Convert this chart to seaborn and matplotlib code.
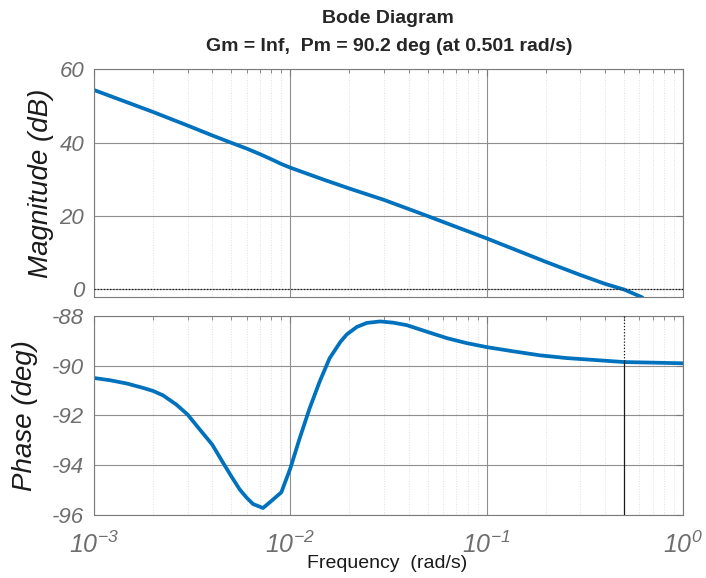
import matplotlib
matplotlib.use("Agg")
import numpy as np
import seaborn as sns
import matplotlib.pyplot as plt
from matplotlib.ticker import LogLocator, NullFormatter, FixedLocator, FuncFormatter

# ---- data ----
freq_mag = [0.001, 0.002, 0.003, 0.004, 0.005, 0.006, 0.007, 0.008, 0.009, 0.01,
            0.01466, 0.02, 0.03, 0.0472, 0.1, 0.2, 0.3, 0.4, 0.5, 0.62]
mag_db = [54.4, 48.4, 44.7, 42.0, 40.0, 38.4, 36.9, 35.5, 34.2, 33.2,
          30.0, 27.5, 24.4, 20.5, 13.9, 7.5, 3.9, 1.5, -0.05, -2.2]

freq_phase = [0.001, 0.001206, 0.001466, 0.001782, 0.002, 0.00225, 0.00263, 0.003,
              0.00346, 0.004, 0.00455, 0.005, 0.00553, 0.006, 0.00646, 0.00726,
              0.008, 0.009, 0.01, 0.01115, 0.01254, 0.0141, 0.01585, 0.018,
              0.0194, 0.02183, 0.02453, 0.0287, 0.0335, 0.0392, 0.0495, 0.0627,
              0.0791, 0.1, 0.1367, 0.1867, 0.255, 0.329, 0.5, 1.0]
phase_deg = [-90.50, -90.59, -90.72, -90.90, -91.02, -91.20, -91.57, -91.97,
             -92.57, -93.17, -93.91, -94.44, -94.98, -95.31, -95.56, -95.72,
             -95.44, -95.09, -94.13, -92.93, -91.72, -90.65, -89.71, -89.05,
             -88.75, -88.45, -88.29, -88.23, -88.28, -88.38, -88.64, -88.90,
             -89.10, -89.26, -89.43, -89.59, -89.70, -89.76, -89.86, -89.91]

wc = 0.501      # crossover frequency (rad/s)
pm = 90.2       # phase margin (deg)
mag_ticks = [0, 20, 40, 60]
phase_ticks = [-96, -94, -92, -90, -88]
mag_lim = (-2.1, 60)
phase_lim = (-96, -88)

# ---- style ----
sns.set_theme(style="white")
plt.rcParams["font.family"] = ["Liberation Sans", "DejaVu Sans"]
plt.rcParams["axes.unicode_minus"] = False
plt.rcParams["mathtext.fontset"] = "custom"
plt.rcParams["mathtext.rm"] = "Liberation Sans:italic"
plt.rcParams["mathtext.it"] = "Liberation Sans:italic"
plt.rcParams["mathtext.sf"] = "Liberation Sans:italic"

blue = "#0072BD"
tick_grey = "#6e6e6e"
spine_grey = "#7a7a7a"

fig = plt.figure(figsize=(7.06, 5.78), dpi=100)
ax1 = fig.add_axes([0.1331, 0.4862, 0.8343, 0.3936])
ax2 = fig.add_axes([0.1331, 0.1090, 0.8343, 0.3448])

sns.lineplot(x=freq_mag, y=mag_db, ax=ax1, color=blue, linewidth=2.7)
sns.lineplot(x=freq_phase, y=phase_deg, ax=ax2, color=blue, linewidth=2.7)

# margin markers
ax1.axhline(0, color="k", ls=(0, (1, 1.5)), lw=0.9, zorder=3)
phase_at_wc = -180 + pm
ax2.vlines(wc, phase_lim[0], phase_at_wc, color="k", lw=0.9, zorder=3)
ax2.vlines(wc, phase_at_wc, phase_lim[1], color="k", lw=0.9, ls=(0, (1, 1.5)), zorder=3)

decade_fmt = FuncFormatter(lambda v, p: r"$10^{%d}$" % int(round(np.log10(v))))

for ax in (ax1, ax2):
    ax.set_xscale("log")
    ax.set_xlim(1e-3, 1e0)
    ax.xaxis.set_major_locator(LogLocator(base=10, numticks=10))
    ax.xaxis.set_major_formatter(decade_fmt)
    ax.xaxis.set_minor_locator(LogLocator(base=10, subs=np.arange(2, 10), numticks=20))
    ax.xaxis.set_minor_formatter(NullFormatter())
    ax.grid(which="major", color="#8f8f8f", lw=0.8, ls="-")
    ax.grid(which="minor", axis="x", color="#e0e0e0", lw=0.7, ls=":")
    ax.set_axisbelow(True)
    ax.tick_params(which="both", direction="in", top=True, right=True,
                   color=spine_grey, labelcolor=tick_grey)
    ax.tick_params(which="major", length=5, width=0.8, labelsize=16, pad=7)
    ax.tick_params(which="minor", length=3, width=0.6)
    ax.tick_params(axis="x", which="major", labelsize=18, pad=12)
    for s in ax.spines.values():
        s.set_color(spine_grey)
        s.set_linewidth(0.8)
        s.set_visible(True)

ax1.set_ylim(*mag_lim)
ax1.yaxis.set_major_locator(FixedLocator(mag_ticks))
ax1.tick_params(labelbottom=False)
ax2.set_ylim(*phase_lim)
ax2.yaxis.set_major_locator(FixedLocator(phase_ticks))

for ax in (ax1, ax2):
    for lab in ax.get_yticklabels():
        lab.set_fontstyle("italic")

ax1.set_xlabel("")
ax1.set_ylabel("Magnitude (dB)", fontsize=20, fontstyle="italic", color="k")
ax1.yaxis.set_label_coords(-0.068, 0.5)
ax2.set_ylabel("Phase (deg)", fontsize=20, fontstyle="italic", color="k")
ax2.yaxis.set_label_coords(-0.095, 0.5)
ax2.set_xlabel("Frequency  (rad/s)", fontsize=14, color="k")
ax2.xaxis.set_label_coords(0.497, -0.2)

fig.text(0.549, 0.968, "Bode Diagram", ha="center", va="center",
         fontsize=14, fontweight="bold")
fig.text(0.5517, 0.92, "Gm = Inf,  Pm = 90.2 deg (at 0.501 rad/s)",
         ha="center", va="center", fontsize=14, fontweight="bold")

fig.savefig("out.png", dpi=100)
